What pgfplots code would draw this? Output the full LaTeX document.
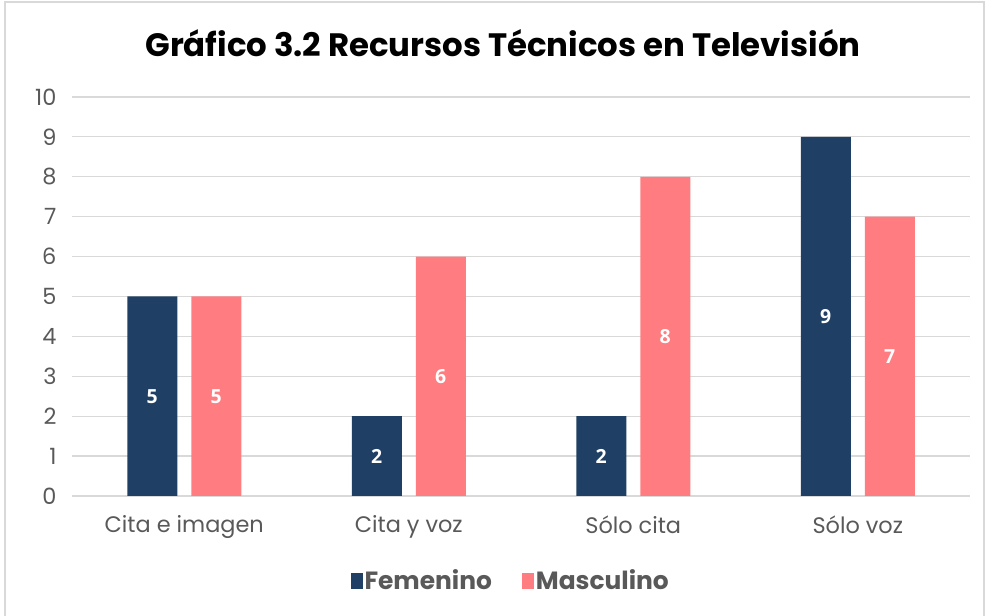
\documentclass[border=0pt]{standalone}
\usepackage{pgfplots}
\pgfplotsset{compat=1.18}
\usepackage{fontspec}
\setmainfont{Poppins}
\newfontfamily\labfont{Open Sans}
\definecolor{navy}{HTML}{203F64}
\definecolor{pinkc}{HTML}{FF7C80}
\definecolor{tickc}{HTML}{595959}
\definecolor{gridc}{HTML}{D9D9D9}
\begin{document}
\begin{tikzpicture}[x=1bp,y=1bp]
\path[use as bounding box] (0,0) rectangle (985,616);
\draw[gridc, line width=1.2bp] (5,-2) rectangle (984,614);
\node[font=\fontsize{32.5}{36}\selectfont\bfseries, anchor=center] at (503,573) {Gráfico 3.2 Recursos Técnicos en Televisión};
\begin{axis}[
  at={(72bp,120bp)}, anchor=south west,
  scale only axis, width=898bp, height=399bp,
  ybar=14bp, bar width=50bp,
  xmin=-0.5, xmax=3.5, ymin=0, ymax=10,
  xtick=data, xticklabels={Cita e imagen, Cita y voz, Sólo cita, Sólo voz},
  ytick={0,1,...,10},
  axis line style={draw=none},
  major tick length=0pt,
  ymajorgrids, grid style={gridc, line width=1.2bp},
  tick label style={font=\fontsize{22.5}{26}\selectfont, text=tickc},
  xticklabel style={yshift=-16bp},
  yticklabel style={xshift=-12bp},
  /pgf/number format/assume math mode=true,
  nodes near coords,
  visualization depends on=y \as \rawy,
  every node near coord/.append style={anchor=center, text=white, font=\labfont\fontsize{19.5}{22}\selectfont\bfseries, shift={(axis direction cs:0,-\rawy/2)}},
  legend style={at={(0.4885,-0.175)}, anchor=north, draw=none, legend columns=2, font=\fontsize{25}{28}\selectfont\bfseries, text=tickc, /tikz/every even column/.append style={column sep=28bp}},
  legend image code/.code={\fill[#1] (0bp,-8bp) rectangle (12bp,8bp);},
]
\draw[gridc, line width=1.5bp] (axis cs:-0.5,0) -- (axis cs:3.5,0);
\addplot[fill=navy, draw=none] coordinates {(0,5) (1,2) (2,2) (3,9)};
\addplot[fill=pinkc, draw=none] coordinates {(0,5) (1,6) (2,8) (3,7)};
\legend{Femenino, Masculino}
\end{axis}
\end{tikzpicture}
\end{document}
